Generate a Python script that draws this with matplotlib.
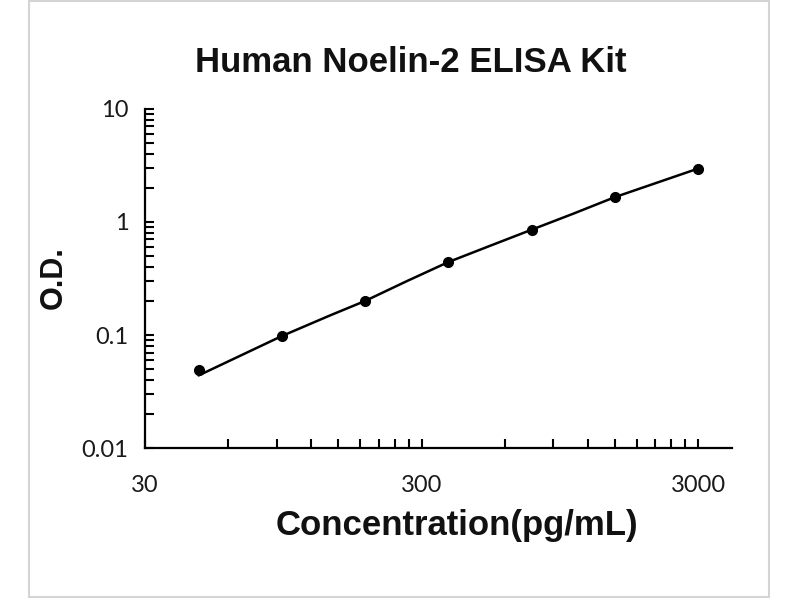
import matplotlib
matplotlib.use("Agg")
import matplotlib.pyplot as plt
from matplotlib.patches import Rectangle
from matplotlib.ticker import FixedLocator, NullFormatter

TITLE = "Human Noelin-2 ELISA Kit"
X_LABEL = "Concentration(pg/mL)"
Y_LABEL = "O.D."

# standard points
conc = [46.875, 93.75, 187.5, 375, 750, 1500, 3000]
od = [0.049, 0.098, 0.200, 0.441, 0.851, 1.65, 2.95]

# fitted curve
fit_conc = [46.875, 93.75, 140, 187.5, 266, 375, 530, 750, 1062, 1500, 2137, 3000]
fit_od = [0.044, 0.098, 0.149, 0.200, 0.300, 0.441, 0.613, 0.851, 1.18, 1.65, 2.22, 2.95]

x_major = [30, 300, 3000]
x_major_labels = ["30", "300", "3000"]
y_major = [0.01, 0.1, 1, 10]
y_major_labels = ["0.01", "0.1", "1", "10"]

TICK_FONT = "Lato"
BOLD_FONT = "Liberation Sans"

fig = plt.figure(figsize=(8, 6), dpi=100)
fig.patch.set_facecolor("white")

# light grey frame around the picture
fig.patches.append(Rectangle((29 / 800, 3 / 600), 740 / 800, 596 / 600,
                             transform=fig.transFigure, fill=False,
                             edgecolor="#d4d4d4", linewidth=1.5))

ax = fig.add_axes([0.18125, 0.2528, 0.73375, 0.5663])
ax.set_xscale("log")
ax.set_yscale("log")
ax.set_xlim(30, 3980)
ax.set_ylim(0.01, 10)

ax.plot(fit_conc, fit_od, color="black", linewidth=1.8, solid_capstyle="round",
        solid_joinstyle="round")
ax.plot(conc, od, linestyle="none", marker="o", markersize=7, color="black")

for side in ["top", "right"]:
    ax.spines[side].set_visible(False)
for side in ["left", "bottom"]:
    ax.spines[side].set_linewidth(1.6)

x_minor = [m * base for base in x_major[:-1] for m in range(2, 10)]
y_minor = [m * base for base in y_major[:-1] for m in range(2, 10)]

ax.xaxis.set_major_locator(FixedLocator(x_major))
ax.xaxis.set_minor_locator(FixedLocator(x_minor))
ax.xaxis.set_minor_formatter(NullFormatter())
ax.set_xticklabels(x_major_labels)

ax.yaxis.set_major_locator(FixedLocator(y_major))
ax.yaxis.set_minor_locator(FixedLocator(y_minor))
ax.yaxis.set_minor_formatter(NullFormatter())
ax.set_yticklabels(y_major_labels)

ax.tick_params(axis="both", which="both", direction="in", length=6.5, width=1.5,
               color="black", labelsize=17, labelcolor="#1a1a1a")
ax.tick_params(axis="x", which="major", pad=19)
ax.tick_params(axis="y", which="major", pad=12)
for lab in ax.get_xticklabels() + ax.get_yticklabels():
    lab.set_fontfamily(TICK_FONT)

fig.text(411 / 800, 1 - 63 / 600, TITLE, ha="center", va="center",
         fontsize=25, fontweight="bold", family=BOLD_FONT, color="#111111")
fig.text(457 / 800, 1 - 525 / 600, X_LABEL, ha="center", va="center",
         fontsize=25, fontweight="bold", family=BOLD_FONT, color="#111111")
fig.text(54 / 800, 1 - 278 / 600, Y_LABEL, ha="center", va="center",
         rotation=90, fontsize=22, fontweight="bold", family=BOLD_FONT,
         color="#111111")

fig.savefig("out.png", dpi=100)
